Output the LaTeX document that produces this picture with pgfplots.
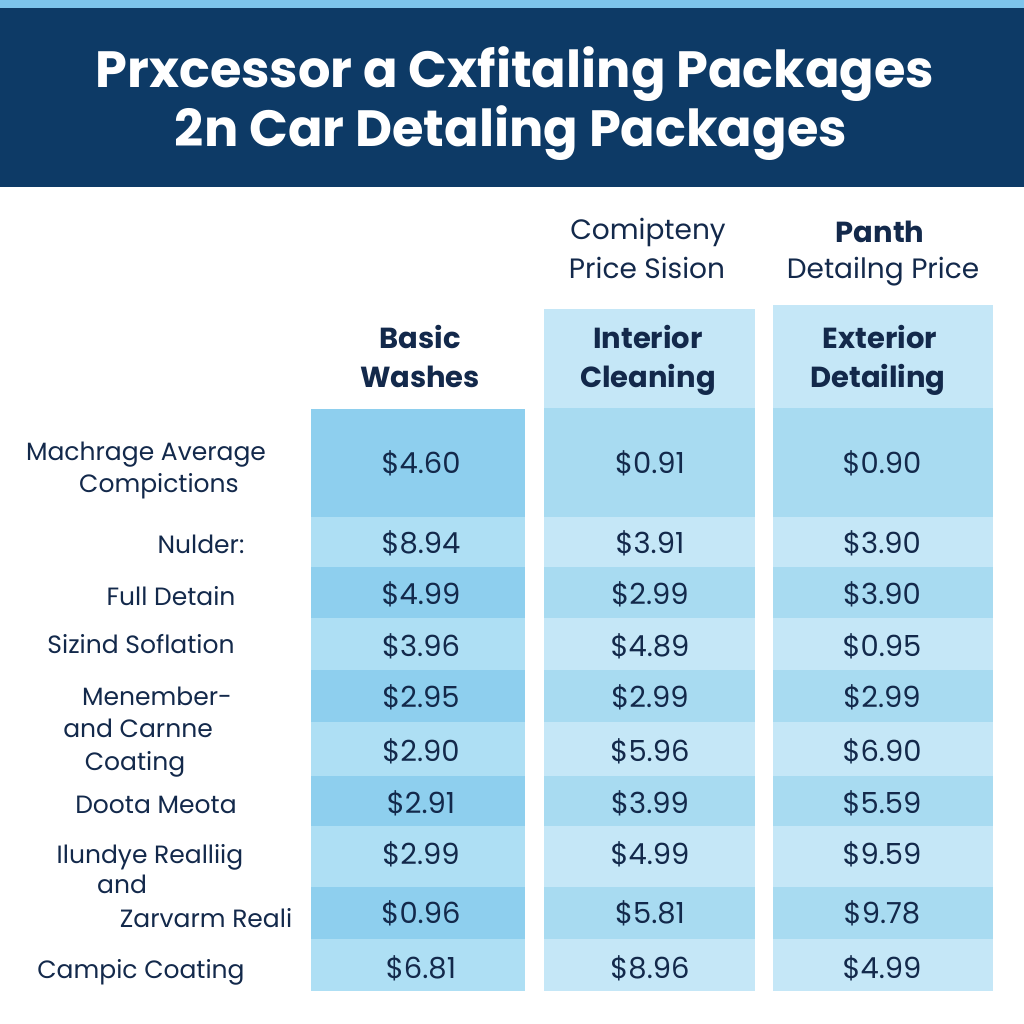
\documentclass[border=0pt]{standalone}
\usepackage{pgfplots}
\pgfplotsset{compat=1.18}
\usepackage{pgfplotstable}
\usepackage{fontspec}
\setmainfont{Poppins}

\definecolor{navy}{HTML}{0D3A66}
\definecolor{ink}{HTML}{13294B}
\definecolor{strip}{HTML}{7CC4EC}
\definecolor{bdark}{HTML}{8ECFEE}
\definecolor{blight}{HTML}{AEDFF4}
\definecolor{cdark}{HTML}{A8DBF1}
\definecolor{clight}{HTML}{C5E7F7}

% baseline (px from top) and prices per package
\pgfplotstableread{
y   basic interior exterior
473 4.60  0.91  0.90
553 8.94  3.91  3.90
604 4.99  2.99  3.90
656 3.96  4.89  0.95
707 2.95  2.99  2.99
761 2.90  5.96  6.90
813 2.91  3.99  5.59
864 2.99  4.99  9.59
923 0.96  5.81  9.78
978 6.81  8.96  4.99
}\prices

% rectangle in pixel coordinates: x1 x2 y1 y2 colour
\newcommand{\cell}[5]{\addplot[fill=#5, draw=none] coordinates {(#1,#3) (#2,#3) (#2,#4) (#1,#4)} --cycle;}

\begin{document}
\begin{tikzpicture}
\begin{axis}[
    width=1024pt, height=1024pt, scale only axis,
    xmin=0, xmax=1024, ymin=0, ymax=1024,
    y dir=reverse, hide axis,
    price/.style={draw=none, mark=none, nodes near coords={\$\pgfplotspointmeta},
        point meta=explicit symbolic,
        nodes near coords style={anchor=base, text=ink, font=\fontsize{29}{32}\selectfont}},
]
% background, banner
\cell{0}{1024}{0}{1024}{white}
\cell{0}{1024}{0}{8}{strip}
\cell{0}{1024}{8}{187}{navy}
% columns
\cell{311}{525}{409}{991}{blight}
\cell{544}{755}{309}{991}{clight}
\cell{773}{993}{305}{991}{clight}
\cell{544}{755}{408}{517}{cdark}
\cell{773}{993}{408}{517}{cdark}
\cell{311}{525}{409}{517}{bdark}
\cell{311}{525}{567}{618}{bdark}
\cell{544}{755}{567}{618}{cdark}
\cell{773}{993}{567}{618}{cdark}
\cell{311}{525}{670}{722}{bdark}
\cell{544}{755}{670}{722}{cdark}
\cell{773}{993}{670}{722}{cdark}
\cell{311}{525}{776}{826}{bdark}
\cell{544}{755}{776}{826}{cdark}
\cell{773}{993}{776}{826}{cdark}
\cell{311}{525}{887}{939}{bdark}
\cell{544}{755}{887}{939}{cdark}
\cell{773}{993}{887}{939}{cdark}

\addplot[price] table[x expr=421, y=y, meta=basic] {\prices};
\addplot[price] table[x expr=650, y=y, meta=interior] {\prices};
\addplot[price] table[x expr=882, y=y, meta=exterior] {\prices};

% title
\begin{scope}[every node/.style={anchor=base, text=white, font=\fontsize{51}{56}\selectfont\bfseries}]
\node at (axis cs:515,88) {Prxcessor a Cxfitaling Packages};
\node at (axis cs:511,147) {2n Car Detaling Packages};
\end{scope}

% column headers
\begin{scope}[every node/.style={anchor=base, text=ink, font=\fontsize{28}{32}\selectfont}]
\node at (axis cs:648,240) {Comipteny};
\node at (axis cs:647,278) {Price Sision};
\node[font=\fontsize{29}{32}\selectfont\bfseries] at (axis cs:880,242) {Panth};
\node at (axis cs:883,278) {Detailng Price};
\end{scope}
\begin{scope}[every node/.style={anchor=base, text=ink, font=\fontsize{29}{32}\selectfont\bfseries}]
\node at (axis cs:420,348) {Basic};
\node at (axis cs:420,387) {Washes};
\node at (axis cs:648,348) {Interior};
\node at (axis cs:648,387) {Cleaning};
\node at (axis cs:880,348) {Exterior};
\node at (axis cs:878,387) {Detailing};
\end{scope}

% row labels
\begin{scope}[every node/.style={anchor=base, text=ink, font=\fontsize{25}{28}\selectfont}]
\node at (axis cs:146,460) {Machrage Average};
\node at (axis cs:159,492) {Compictions};
\node at (axis cs:201,553) {Nulder:};
\node at (axis cs:171,605) {Full Detain};
\node at (axis cs:141,653) {Sizind Soflation};
\node at (axis cs:157,705) {Menember-};
\node at (axis cs:138,737) {and Carnne};
\node at (axis cs:135,770) {Coating};
\node at (axis cs:156,813) {Doota Meota};
\node at (axis cs:150,863) {Ilundye Realliig};
\node at (axis cs:122,893) {and};
\node at (axis cs:206,927) {Zarvarm Reali};
\node at (axis cs:141,978) {Campic Coating};
\end{scope}
\end{axis}
\end{tikzpicture}
\end{document}
